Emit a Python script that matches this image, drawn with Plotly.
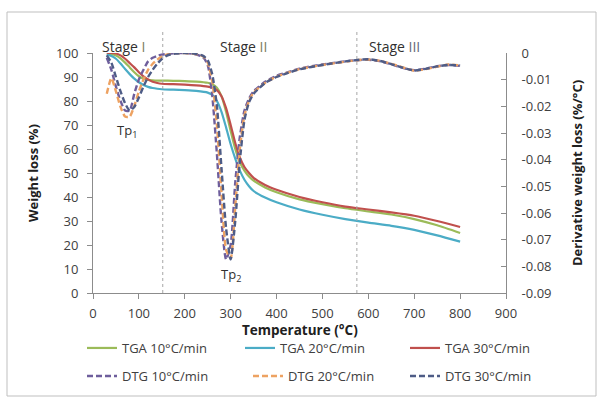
import plotly.graph_objects as go

# ---------------- data ----------------
temp_tga = [30, 40, 50, 60, 70, 80, 90, 100, 110, 120, 130, 140, 150,
            175, 200, 225, 250,
            260, 270, 280, 290, 300, 310, 320, 330, 340, 350,
            375, 400, 450, 500, 550, 600, 650, 700, 750, 800]

tga_10 = [99.6, 99.5, 99.0, 97.8, 96.0, 94.0, 92.0, 90.3, 89.3, 88.8, 88.6, 88.5, 88.5,
          88.4, 88.3, 88.1, 87.6,
          87.0, 85.5, 82.0, 75.5, 67.5, 60.0, 54.5, 51.0, 48.5, 46.8,
          44.0, 42.0, 39.0, 37.0, 35.3, 34.0, 32.7, 30.8, 28.2, 25.0]

tga_20 = [99.2, 98.8, 97.6, 95.6, 93.3, 91.2, 89.3, 87.8, 86.7, 85.9, 85.4, 85.1, 84.9,
          84.7, 84.5, 84.2, 83.5,
          82.5, 80.0, 75.5, 69.0, 62.0, 56.0, 51.0, 47.2, 44.5, 42.5,
          39.8, 37.8, 34.8, 32.6, 30.8, 29.3, 28.0, 26.3, 24.0, 21.4]

tga_30 = [100.0, 100.0, 99.8, 99.0, 97.6, 95.8, 94.0, 92.0, 90.3, 89.0, 88.0, 87.5, 87.2,
          87.0, 86.8, 86.5, 86.0,
          85.5, 84.5, 82.0, 77.0, 70.0, 62.5, 56.5, 52.5, 50.0, 48.0,
          45.0, 43.0, 40.0, 37.8, 36.0, 34.8, 33.6, 32.2, 30.0, 27.5]

temp_dtg = [30, 40, 50, 60, 70, 80, 90, 100, 110, 120, 130, 140, 150, 160, 170, 180,
            200, 220, 240,
            250, 260, 270, 280, 290, 300, 310, 320, 330, 340, 350,
            375, 400, 425, 450,
            500, 550, 575, 600, 625, 650, 675, 700, 725, 750, 775, 800]

dtg_10 = [-0.0018, -0.0063, -0.0126, -0.0180, -0.0216, -0.0216, -0.0153, -0.0099,
          -0.0063, -0.00315, -0.0018, -0.00108, -0.00063, -0.00036, -0.00018, 0.0,
          0.0, -0.00036, -0.00162,
          -0.0045, -0.0162, -0.0378, -0.0630, -0.0774, -0.0720, -0.0486, -0.0315,
          -0.0216, -0.0171, -0.0144,
          -0.0108, -0.00855, -0.0072, -0.00585,
          -0.00432, -0.00315, -0.0027, -0.00252, -0.00306, -0.00423, -0.00558,
          -0.00648, -0.00585, -0.00495, -0.0045, -0.00486]

dtg_20 = [-0.0153, -0.00945, -0.0144, -0.02025, -0.02385, -0.02385, -0.0198, -0.0144,
          -0.0099, -0.0063, -0.00405, -0.00252, -0.00135, -0.00063, -0.00027, -0.00009,
          0.0, -0.00027, -0.00126,
          -0.0036, -0.0108, -0.0270, -0.0522, -0.0738, -0.07695, -0.0576, -0.0360,
          -0.0234, -0.0180, -0.01485,
          -0.01125, -0.00882, -0.00738, -0.00603,
          -0.0045, -0.00324, -0.0027, -0.00243, -0.00288, -0.00405, -0.0054,
          -0.00666, -0.00603, -0.00513, -0.00432, -0.00468]

dtg_30 = [-0.0009, -0.0036, -0.0090, -0.0144, -0.0189, -0.0216, -0.02025, -0.01665,
          -0.0126, -0.0090, -0.0063, -0.00405, -0.00225, -0.00108, -0.00045, -0.00018,
          0.0, -0.00018, -0.00108,
          -0.0027, -0.0081, -0.0198, -0.0432, -0.0657, -0.0774, -0.0630, -0.0405,
          -0.0252, -0.01845, -0.0153,
          -0.01125, -0.0090, -0.00747, -0.00612,
          -0.0045, -0.00315, -0.00261, -0.00234, -0.00297, -0.00414, -0.00549,
          -0.00657, -0.00594, -0.00504, -0.0045, -0.00468]

x_ticks = [0, 100, 200, 300, 400, 500, 600, 700, 800, 900]
y_ticks = [0, 10, 20, 30, 40, 50, 60, 70, 80, 90, 100]
y2_ticks = [0, -0.01, -0.02, -0.03, -0.04, -0.05, -0.06, -0.07, -0.08, -0.09]
y2_labels = ["0", "-0.01", "-0.02", "-0.03", "-0.04", "-0.05", "-0.06", "-0.07", "-0.08", "-0.09"]

stage_bounds = [152, 575]
stage_labels = ["Stage <span style='color:#7E7C58'>I</span>",
                "Stage <span style='color:#7E7C58'>II</span>",
                "Stage <span style='color:#66667A'>III</span>"]
stage_label_x = [66, 327, 657]

# ---------------- figure ----------------
FONT = "Open Sans"
TXT = "#404040"
AX = "#8C8C8C"

fig = go.Figure()

tga_series = [("TGA 10°C/min", tga_10, "#9BBB59"),
              ("TGA 20°C/min", tga_20, "#4BACC6"),
              ("TGA 30°C/min", tga_30, "#C0504D")]
dtg_series = [("DTG 10°C/min", dtg_10, "#6E5E9C"),
              ("DTG 20°C/min", dtg_20, "#EDA262"),
              ("DTG 30°C/min", dtg_30, "#4E5C86")]

W, H = 599, 397
ml, mr, mt, mb = 93, 93, 53, 104

# legend text start positions (px) for each entry, and row centres
legend_text_x = [122, 280, 445, 122, 288, 445]
legend_row_y = [348, 348, 348, 376, 376, 376]
legend_ids = ["legend", "legend2", "legend3", "legend4", "legend5", "legend6"]

k = 0
for name, vals, col in tga_series:
    fig.add_trace(go.Scatter(x=temp_tga, y=vals, name=name, mode="lines",
                             line=dict(color=col, width=2.2, shape="spline", smoothing=0.6),
                             legend=legend_ids[k]))
    k += 1
for name, vals, col in dtg_series:
    fig.add_trace(go.Scatter(x=temp_dtg, y=vals, name=name, mode="lines", yaxis="y2",
                             line=dict(color=col, width=2.4, dash="6px,3px",
                                       shape="spline", smoothing=0.6),
                             legend=legend_ids[k]))
    k += 1

legend_layout = {}
for lid, tx, ty in zip(legend_ids, legend_text_x, legend_row_y):
    legend_layout[lid] = dict(orientation="h", xref="container", yref="container",
                              x=(tx - 40) / W, xanchor="left", y=1 - ty / H, yanchor="middle",
                              bgcolor="rgba(0,0,0,0)", font=dict(size=13, color=TXT),
                              itemclick=False, itemdoubleclick=False)

fig.update_layout(
    width=W, height=H,
    margin=dict(l=ml, r=mr, t=mt, b=mb, autoexpand=False),
    paper_bgcolor="white", plot_bgcolor="white",
    font=dict(family=FONT, size=13, color=TXT),
    xaxis=dict(range=[0, 900], tickvals=x_ticks, showgrid=False, zeroline=False,
               showline=True, linecolor=AX, linewidth=1, ticks="outside", ticklen=5,
               tickcolor=AX, ticklabelstandoff=3, automargin=False),
    yaxis=dict(range=[0, 100], tickvals=y_ticks, showgrid=False, zeroline=False,
               showline=True, linecolor=AX, linewidth=1, ticks="outside", ticklen=5,
               tickcolor=AX, ticklabelstandoff=6, automargin=False,
               title=dict(text="<b>Weight loss (%)</b>", font=dict(size=13, color="#202020"),
                          standoff=14)),
    yaxis2=dict(range=[-0.09, 0], tickvals=y2_ticks, ticktext=y2_labels, overlaying="y",
                side="right", showgrid=False, zeroline=False, showline=True, linecolor=AX,
                linewidth=1, ticks="inside", ticklen=5, tickcolor=AX, ticklabelstandoff=12,
                automargin=False,
                title=dict(text="<b>Derivative weight loss (%/°C)</b>",
                           font=dict(size=13, color="#202020"), standoff=21)),
    showlegend=True,
    **legend_layout,
)

pw, ph = W - ml - mr, H - mt - mb
def px2paper_x(p):
    return (p - ml) / pw
def px2paper_y(p):
    return (H - mb - p) / ph

# x-axis title (placed as annotation for exact position)
fig.add_annotation(x=0.5, xref="paper", y=px2paper_y(330), yref="paper",
                   text="<b>Temperature (°C)</b>", showarrow=False,
                   font=dict(size=13.5, color="#202020"), yanchor="middle")

# chart frame
fig.add_shape(type="rect", xref="paper", yref="paper",
              x0=px2paper_x(7), x1=px2paper_x(596), y0=px2paper_y(396), y1=px2paper_y(12),
              line=dict(color="#BFBFBF", width=1), layer="above")

# stage boundaries
for b in stage_bounds:
    fig.add_shape(type="line", xref="x", yref="paper", x0=b, x1=b,
                  y0=0, y1=px2paper_y(29),
                  line=dict(color="#A6A6A6", width=1, dash="dot"))

for lab, lx in zip(stage_labels, stage_label_x):
    fig.add_annotation(x=lx, xref="x", y=px2paper_y(35), yref="paper", text=lab,
                       showarrow=False, font=dict(size=14, color="#303030"))

fig.add_annotation(x=74, y=67.5, xref="x", yref="y", text="Tp<sub>1</sub>",
                   showarrow=False, font=dict(size=13, color="#303030"))
fig.add_annotation(x=301, y=7.5, xref="x", yref="y", text="Tp<sub>2</sub>",
                   showarrow=False, font=dict(size=13, color="#303030"))

fig.write_html("out.html", config={"displayModeBar": False},
               post_script="document.body.style.margin='0';")
